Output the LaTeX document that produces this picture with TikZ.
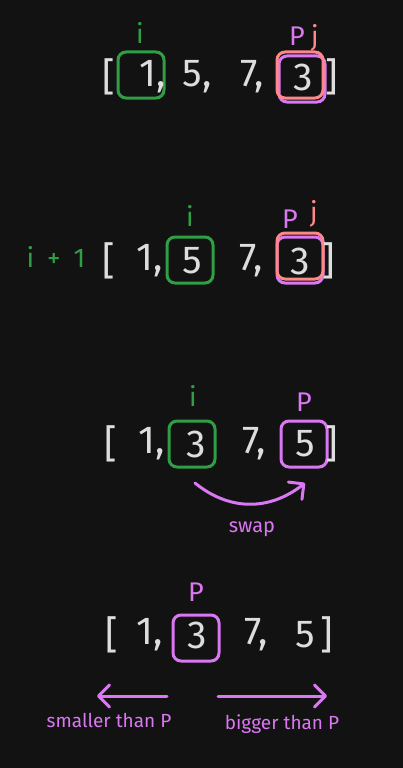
\documentclass[tikz,border=0pt]{standalone}
\usepackage{fontspec}
\setmainfont{Fira Sans}
\usetikzlibrary{arrows.meta}
\definecolor{bg}{HTML}{121212}
\definecolor{fg}{HTML}{DDDDDD}
\definecolor{grn}{HTML}{2F9E44}
\definecolor{pnk}{HTML}{FF8787}
\definecolor{vio}{HTML}{DA77F2}
\begin{document}
\begin{tikzpicture}[x=1pt,y=-1pt,
  num/.style={text=fg,font=\fontsize{39}{39}\selectfont,inner sep=0pt},
  lbl/.style={font=\fontsize{27}{27}\selectfont,inner sep=0pt},
  small/.style={text=vio,font=\fontsize{19}{19}\selectfont,inner sep=0pt},
  box/.style={line width=3pt,rounded corners=8pt,minimum width=46pt,minimum height=46pt,inner sep=0pt},
  gbox/.style={box,draw=grn},
  pbox/.style={box,draw=pnk},
  vbox/.style={box,draw=vio},
  arr/.style={draw=vio,line width=3pt,line cap=round,-{Straight Barb[length=11pt,width=22pt,line cap=round,line join=round]}}
]
\fill[bg] (0,0) rectangle (403,768);
\useasboundingbox (0,0) rectangle (403,768);

% ---------- row 1 ----------
\node[vbox] (b1v) at (302,79) {};
\node[pbox] (b1p) at (300,75) {};
\node[gbox] (b1g) at (141,75) {};
\node[num] (r1o) at (109,77) {[};
\node[num] (r1a) at (153,77) {1,};
\node[num] (r1b) at (197,77) {5,};
\node[num] (r1c) at (252,77) {7,};
\node[num] (r1d) at (303,77) {3};
\node[num] (r1e) at (332,77) {]};
\node[lbl,text=grn] (l1i) at (140,33) {i};
\node[lbl,text=vio] (l1p) at (297,36) {P};
\node[lbl,text=pnk] (l1j) at (315,38) {j};

% ---------- row 2 ----------
\node[vbox] (b2v) at (300,260) {};
\node[pbox] (b2p) at (300,256) {};
\node[gbox] (b2g) at (190,260) {};
\node[lbl,text=grn] (l2s) at (56,257) {i\hspace{13pt}+\hspace{13pt}1};
\node[num] (r2o) at (109,261) {[};
\node[num] (r2a) at (150,261) {1,};
\node[num] (r2b) at (192,261) {5};
\node[num] (r2c) at (251,261) {7,};
\node[num] (r2d) at (300,261) {3};
\node[num] (r2e) at (329,261) {]};
\node[lbl,text=grn] (l2i) at (190,216) {i};
\node[lbl,text=vio] (l2p) at (290,219) {P};
\node[lbl,text=pnk] (l2j) at (314,214) {j};

% ---------- row 3 ----------
\node[gbox] (b3g) at (192,444) {};
\node[vbox] (b3v) at (304,444) {};
\node[num] (r3o) at (111,444) {[};
\node[num] (r3a) at (152,444) {1,};
\node[num] (r3b) at (196,444) {3};
\node[num] (r3c) at (254,444) {7,};
\node[num] (r3d) at (305,444) {5};
\node[num] (r3e) at (332,444) {]};
\node[lbl,text=grn] (l3i) at (193,396) {i};
\node[lbl,text=vio] (l3p) at (304,402) {P};
\coordinate (s1) at (195,483);
\coordinate (s2) at (305,483);
\draw[arr] (s1) .. controls (228,510) and (268,512) .. (s2);
\node[small,font=\fontsize{20}{20}\selectfont] (swp) at (252,529) {swap};

% ---------- row 4 ----------
\node[vbox] (b4v) at (196,638) {};
\node[num] (r4o) at (112,635) {[};
\node[num] (r4a) at (150,635) {1,};
\node[num] (r4b) at (197,635) {3};
\node[num] (r4c) at (256,635) {7,};
\node[num] (r4d) at (305,635) {5};
\node[num] (r4e) at (327,635) {]};
\node[lbl,text=vio] (l4p) at (196,592) {P};
\coordinate (a1) at (167,696);
\coordinate (a2) at (97,696);
\coordinate (a3) at (218,696);
\coordinate (a4) at (327,696);
\draw[arr] (a1) -- (a2);
\draw[arr] (a3) -- (a4);
\node[small] (sm) at (109,720) {smaller than P};
\node[small] (bg) at (282,724) {bigger than P};
\end{tikzpicture}
\end{document}
